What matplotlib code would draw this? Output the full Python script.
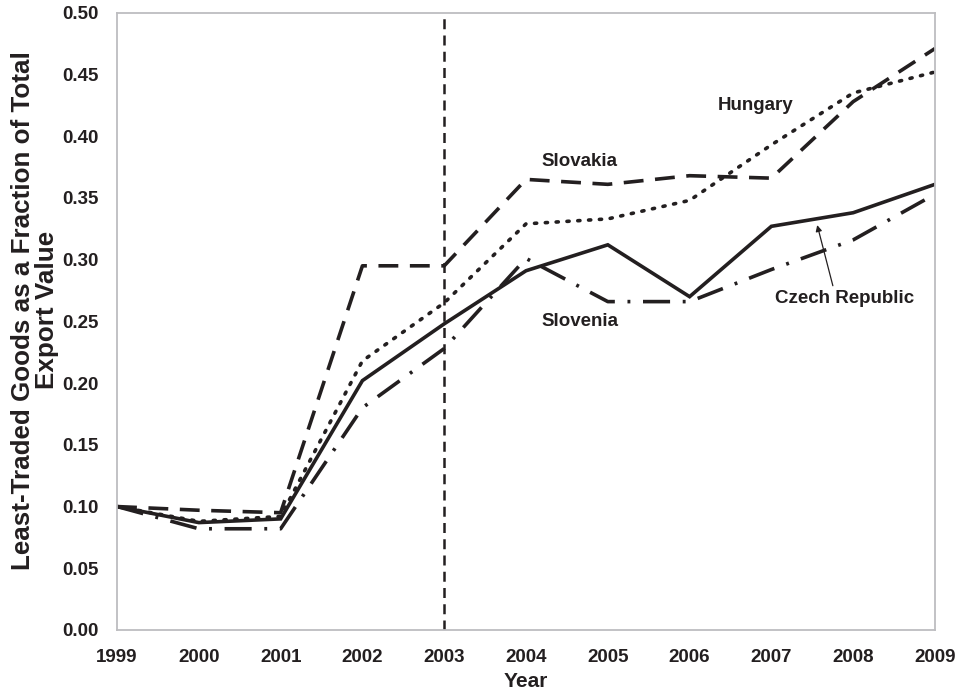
import matplotlib
matplotlib.use("Agg")
import matplotlib.pyplot as plt

years = [1999, 2000, 2001, 2002, 2003, 2004, 2005, 2006, 2007, 2008, 2009]
czech = [0.100, 0.087, 0.090, 0.202, 0.248, 0.291, 0.312, 0.270, 0.327, 0.338, 0.361]
slovakia = [0.100, 0.097, 0.095, 0.295, 0.295, 0.365, 0.361, 0.368, 0.366, 0.428, 0.471]
hungary = [0.100, 0.088, 0.092, 0.218, 0.265, 0.329, 0.333, 0.348, 0.393, 0.435, 0.452]
slovenia = [0.100, 0.082, 0.082, 0.180, 0.228, 0.301, 0.266, 0.266, 0.292, 0.316, 0.353]
yticks = [0.00, 0.05, 0.10, 0.15, 0.20, 0.25, 0.30, 0.35, 0.40, 0.45, 0.50]
vline_year = 2003

plt.rcParams['font.family'] = ['Liberation Sans', 'DejaVu Sans']
txt = '#231f20'

fig = plt.figure(figsize=(9.57, 6.92), dpi=100)
ax = fig.add_axes([0.1223, 0.0896, 0.8547, 0.8920])

lw = 2.6
ax.plot(years, czech, color=txt, lw=lw, solid_joinstyle='miter')
ax.plot(years, slovakia, color=txt, lw=lw, dashes=(5.5, 3.2))
ax.plot(years, hungary, color=txt, lw=lw, dashes=(0.6, 2.4), dash_capstyle='round')
ax.plot(years, slovenia, color=txt, lw=lw, dashes=(7.5, 3.5, 0.8, 3.5))
ax.axvline(vline_year, color=txt, lw=1.8, dashes=(4, 2.5))

ax.set_xlim(years[0], years[-1])
ax.set_ylim(yticks[0], yticks[-1])
ax.set_xticks(years)
ax.set_yticks(yticks)
ax.set_yticklabels([f"{v:.2f}" for v in yticks])
ax.tick_params(axis='y', length=0, labelsize=13.5, colors=txt, pad=13)
ax.tick_params(axis='x', length=0, labelsize=13.5, colors=txt, pad=14)
for lab in ax.get_xticklabels() + ax.get_yticklabels():
    lab.set_fontweight('bold')
for s in ax.spines.values():
    s.set_color('#bdbdc0')
    s.set_linewidth(1.3)

ax.set_xlabel('Year', fontsize=15, fontweight='bold', color=txt, labelpad=4)
ax.set_ylabel('Least-Traded Goods as a Fraction of Total\nExport Value', fontsize=18.7,
              fontweight='bold', color=txt, linespacing=1.0)
ax.yaxis.set_label_coords(-0.071, 0.518)

fs = 13.5
ax.text(2004.19, 0.376, 'Slovakia', fontsize=fs, fontweight='bold', color=txt)
ax.text(2006.35, 0.421, 'Hungary', fontsize=fs, fontweight='bold', color=txt)
ax.text(2004.19, 0.246, 'Slovenia', fontsize=fs, fontweight='bold', color=txt)
ax.annotate('Czech Republic', xy=(2007.56, 0.328), xytext=(2007.05, 0.265),
            fontsize=fs, fontweight='bold', color=txt,
            arrowprops=dict(arrowstyle='-|>', color=txt, lw=0.9,
                            shrinkA=1, shrinkB=0, mutation_scale=9,
                            relpos=(0.42, 1.0)))

fig.savefig('out.png', dpi=100)
